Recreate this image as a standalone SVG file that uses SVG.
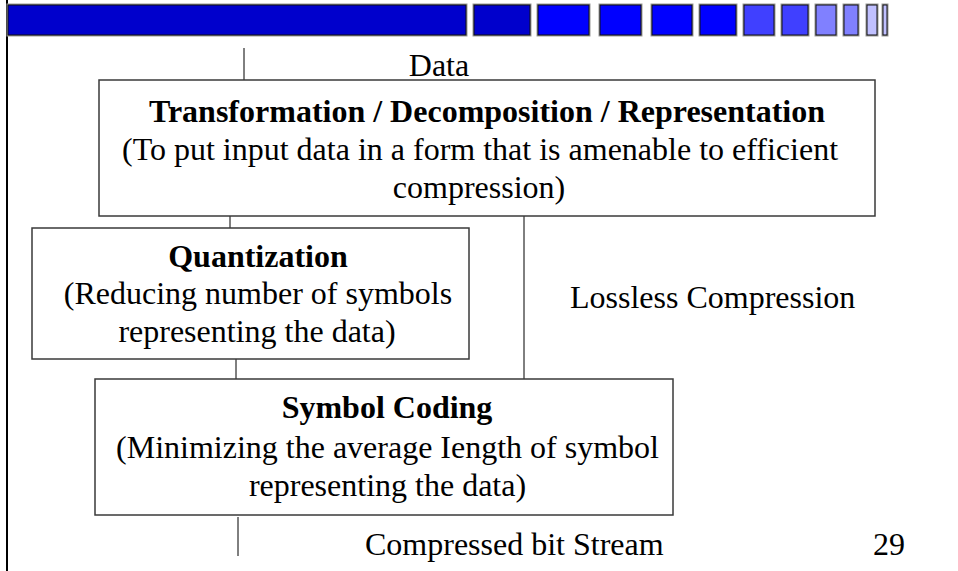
<svg xmlns="http://www.w3.org/2000/svg" width="958" height="571" viewBox="0 0 958 571">
  <style>
    .bg { fill: #ffffff; }
    .frame { stroke: #000000; stroke-width: 2; }
    .tile { stroke: #111111; stroke-width: 1; }
    .halo { fill: none; stroke: #9a9a9a; stroke-width: 3; }
    .box { fill: #ffffff; stroke: #3a3a3a; stroke-width: 1.5; }
    .wire { stroke: #000000; stroke-width: 1; fill: none; }
    text { font-family: "Liberation Serif", "Times New Roman", serif; font-size: 32px; fill: #000000; }
    .title { font-weight: bold; }
    .mid { text-anchor: middle; }
  </style>

  <rect class="bg" x="0" y="0" width="958" height="571"/>

  <!-- slide edge on the left -->
  <line class="frame" x1="7" y1="0" x2="7" y2="571"/>

  <!-- header banner: long bar followed by shrinking, fading tiles -->
  <g id="banner">
    <g class="halo-set">
      <rect class="halo" x="8" y="5" width="458" height="30"/>
      <rect class="halo" x="474" y="5" width="56" height="30"/>
      <rect class="halo" x="538" y="5" width="51" height="30"/>
      <rect class="halo" x="600" y="5" width="41" height="30"/>
      <rect class="halo" x="652" y="5" width="40" height="30"/>
      <rect class="halo" x="700" y="5" width="36" height="30"/>
      <rect class="halo" x="744" y="5" width="30" height="30"/>
      <rect class="halo" x="782" y="5" width="26" height="30"/>
      <rect class="halo" x="816" y="5" width="20" height="30"/>
      <rect class="halo" x="844" y="5" width="14" height="30"/>
      <rect class="halo" x="867" y="5" width="10" height="30"/>
      <rect class="halo" x="883" y="5" width="4" height="30"/>
    </g>
    <rect class="tile" x="8" y="5" width="458" height="30" fill="#0000CC"/>
    <rect class="tile" x="474" y="5" width="56" height="30" fill="#0000CC"/>
    <rect class="tile" x="538" y="5" width="51" height="30" fill="#0000FF"/>
    <rect class="tile" x="600" y="5" width="41" height="30" fill="#0000FF"/>
    <rect class="tile" x="652" y="5" width="40" height="30" fill="#0000FF"/>
    <rect class="tile" x="700" y="5" width="36" height="30" fill="#0000FF"/>
    <rect class="tile" x="744" y="5" width="30" height="30" fill="#4040FF"/>
    <rect class="tile" x="782" y="5" width="26" height="30" fill="#4040FF"/>
    <rect class="tile" x="816" y="5" width="20" height="30" fill="#8080FF"/>
    <rect class="tile" x="844" y="5" width="14" height="30" fill="#8080FF"/>
    <rect class="tile" x="867" y="5" width="10" height="30" fill="#C0C0FF"/>
    <rect class="tile" x="883" y="5" width="4" height="30" fill="#C0C0FF"/>
  </g>

  <!-- connectors -->
  <g id="connectors">
    <line class="wire" x1="244" y1="48" x2="244" y2="80"/>
    <line class="wire" x1="230" y1="216" x2="230" y2="228"/>
    <line class="wire" x1="524" y1="216" x2="524" y2="379"/>
    <line class="wire" x1="236" y1="359" x2="236" y2="379"/>
    <line class="wire" x1="238" y1="517" x2="238" y2="556"/>
  </g>

  <!-- input label -->
  <g id="input-label">
    <text x="439" y="76" class="mid">Data</text>
  </g>

  <g id="transform">
    <rect class="box" x="99" y="80" width="776" height="136"/>
    <text class="title mid" x="487" y="122">Transformation / Decomposition / Representation</text>
    <text class="mid" x="480" y="160">(To put input data in a form that is amenable to efficient</text>
    <text class="mid" x="479" y="198">compression)</text>
  </g>

  <g id="quantization">
    <rect class="box" x="32" y="228" width="437" height="131"/>
    <text class="title mid" x="258" y="267">Quantization</text>
    <text class="mid" x="258" y="304">(Reducing number of symbols</text>
    <text class="mid" x="257" y="342">representing the data)</text>
  </g>

  <g id="lossless-label">
    <text x="570" y="308">Lossless Compression</text>
  </g>

  <g id="symbol-coding">
    <rect class="box" x="95" y="379" width="578" height="136"/>
    <text class="title mid" x="387" y="418">Symbol Coding</text>
    <text class="mid" x="387.5" y="458">(Minimizing the average Iength of symbol</text>
    <text class="mid" x="387.5" y="496">representing the data)</text>
  </g>

  <g id="output-label">
    <text x="365" y="555">Compressed bit Stream</text>
  </g>

  <g id="page-number">
    <text x="873" y="555">29</text>
  </g>
</svg>
